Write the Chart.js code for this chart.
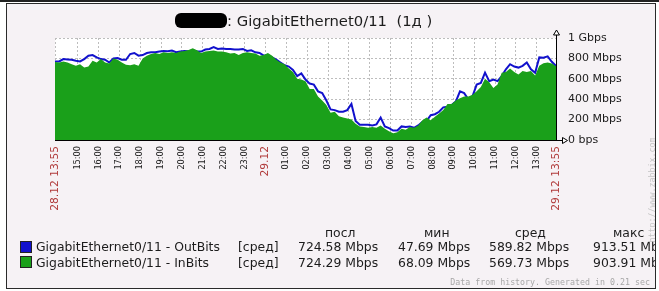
<!DOCTYPE html>
<html>
<head>
<meta charset="utf-8">
<script src="https://cdn.jsdelivr.net/npm/chart.js"></script>
<style>
  html, body { margin: 0; padding: 0; background: #fff; }
  #wrap { position: relative; width: 659px; height: 291px; overflow: hidden; font-family: "DejaVu Sans", sans-serif; color: #1c1c1c; }
  #topline { position: absolute; left: 0; top: 0; width: 659px; height: 2px; background: #222; }
  #box { position: absolute; left: 6px; top: 3px; width: 648px; height: 284px; border: 1px solid #2a2a2a; background: #f6f2f5; }
  #chart { position: absolute; left: 0; top: 0; }
  #clip { position: absolute; left: 7px; top: 4px; width: 648px; height: 284px; overflow: hidden; }
  .t { position: absolute; white-space: pre; height: 16px; line-height: 16px; }
  .lg { font-size: 12.4px; }
  .sq { position: absolute; width: 10px; height: 10px; border: 1px solid #222; }
  .small { font-family: "DejaVu Sans Mono", monospace; font-size: 8.3px; color: #a8a8a8; }
</style>
</head>
<body>
<div id="wrap">
  <div id="topline"></div>
  <div id="box"></div>
  <canvas id="chart" width="659" height="291"></canvas>
  <div id="clip">
    <!-- title (host name is blacked out in the reference) -->
    <div class="t" style="left:168px; top:9px; height:15px; width:52px; background:#000; border-radius:6px;"></div>
    <div class="t" style="left:220px; top:8px; font-size:14.8px; line-height:18px; height:18px;">: GigabitEthernet0/11  (1д )</div>

    <div class="t lg" style="left:318px; top:221px;">посл</div>
    <div class="t lg" style="left:417px; top:221px;">мин</div>
    <div class="t lg" style="left:508px; top:221px;">сред</div>
    <div class="t lg" style="left:606px; top:221px;">макс</div>

    <div class="sq" style="left:13px; top:237px; background:#1111cc;"></div>
    <div class="t lg" style="left:29px; top:235px;">GigabitEthernet0/11 - OutBits</div>
    <div class="t lg" style="left:231px; top:235px;">[сред]</div>
    <div class="t lg" style="left:291px; top:235px;">724.58 Mbps</div>
    <div class="t lg" style="left:391px; top:235px;">47.69 Mbps</div>
    <div class="t lg" style="left:482px; top:235px;">589.82 Mbps</div>
    <div class="t lg" style="left:586px; top:235px;">913.51 Mbps</div>

    <div class="sq" style="left:13px; top:252px; background:#1aa01a;"></div>
    <div class="t lg" style="left:29px; top:251px;">GigabitEthernet0/11 - InBits</div>
    <div class="t lg" style="left:231px; top:251px;">[сред]</div>
    <div class="t lg" style="left:291px; top:251px;">724.29 Mbps</div>
    <div class="t lg" style="left:391px; top:251px;">68.09 Mbps</div>
    <div class="t lg" style="left:482px; top:251px;">569.73 Mbps</div>
    <div class="t lg" style="left:586px; top:251px;">903.91 Mbps</div>

    <div class="t small" style="right:5px; top:270px;">Data from history. Generated in 0.21 sec</div>
    <div class="t small" style="left:592px; top:178px; width:105px; text-align:center; color:#c4c4c4; transform:rotate(-90deg);">http://www.zabbix.com</div>
  </div>
</div>
<script>
// samples every 12 minutes, starting 28.12 13:55, values in Mbps
const stepMinutes = 12;

const outBits = [
  770, 770, 793, 790, 787, 777, 770, 793, 827, 833,
  810, 793, 787, 760, 800, 803, 787, 787, 843, 853,
  827, 833, 853, 860, 860, 867, 873, 870, 877, 860,
  867, 873, 870, 877, 870, 867, 887, 893, 910, 893,
  897, 893, 893, 887, 887, 893, 873, 880, 860, 853,
  827, 833, 810, 787, 760, 733, 720, 687, 627, 653,
  593, 553, 543, 477, 460, 387, 300, 293, 277, 277,
  293, 353, 187, 150, 150, 150, 143, 153, 220, 133,
  117, 93, 93, 133, 127, 133, 120, 143, 177, 187,
  243, 253, 277, 320, 327, 343, 377, 477, 460, 400,
  427, 543, 560, 660, 577, 593, 577, 627, 693, 743,
  720, 710, 727, 760, 693, 660, 810, 807, 820, 767,
  725
];

const inBits = [
  765, 760, 770, 760, 743, 727, 743, 710, 720, 777,
  760, 793, 760, 750, 800, 787, 760, 737, 733, 743,
  727, 800, 827, 843, 853, 843, 860, 853, 860, 853,
  867, 873, 883, 900, 880, 853, 867, 873, 877, 867,
  867, 860, 847, 853, 833, 853, 860, 853, 847, 827,
  833, 853, 827, 787, 760, 743, 700, 667, 600, 593,
  577, 500, 500, 427, 387, 343, 267, 277, 233, 220,
  210, 200, 160, 133, 127, 120, 127, 120, 143, 110,
  87, 67, 77, 110, 100, 127, 120, 143, 193, 220,
  193, 227, 260, 293, 353, 353, 387, 410, 427, 427,
  443, 477, 520, 600, 567, 510, 543, 660, 667, 700,
  667, 643, 677, 667, 677, 633, 727, 753, 760, 750,
  724
];

// x ticks in minutes from the start of the period
const tickMinutes = [0, 65, 125, 185, 245, 305, 365, 425, 485, 545, 605, 665, 725,
  785, 845, 905, 965, 1025, 1085, 1145, 1205, 1265, 1325, 1385, 1440];
const tickLabels = ['28.12 13:55', '15:00', '16:00', '17:00', '18:00', '19:00', '20:00',
  '21:00', '22:00', '23:00', '29.12', '01:00', '02:00', '03:00', '04:00', '05:00', '06:00',
  '07:00', '08:00', '09:00', '10:00', '11:00', '12:00', '13:00', '29.12 13:55'];

const yTicks = [0, 200, 400, 600, 800, 1000];
const yTickLabels = ['0 bps', '200 Mbps', '400 Mbps', '600 Mbps', '800 Mbps', '1 Gbps'];

const toPoints = arr => arr.map((v, i) => ({ x: i * stepMinutes, y: v }));

const plotBg = {
  id: 'plotBg',
  beforeDraw(chart) {
    const { ctx, chartArea: a } = chart;
    ctx.save();
    ctx.fillStyle = '#fff';
    ctx.fillRect(a.left, a.top, a.right - a.left, a.bottom - a.top);
    ctx.restore();
  }
};

const axisArrows = {
  id: 'axisArrows',
  afterDraw(chart) {
    const { ctx, chartArea: a } = chart;
    const x = Math.round(a.right) + 0.5;
    const y = Math.round(a.bottom) + 0.5;
    ctx.save();
    ctx.strokeStyle = '#000';
    ctx.fillStyle = '#fff';
    ctx.lineWidth = 1;
    // up arrow on the value axis
    ctx.beginPath();
    ctx.moveTo(x, a.top);
    ctx.lineTo(x, a.top - 3);
    ctx.stroke();
    ctx.beginPath();
    ctx.moveTo(x, a.top - 8);
    ctx.lineTo(x + 3, a.top - 3);
    ctx.lineTo(x - 3, a.top - 3);
    ctx.closePath();
    ctx.fill();
    ctx.stroke();
    // right arrow on the time axis
    ctx.beginPath();
    ctx.moveTo(x, y);
    ctx.lineTo(x + 6, y);
    ctx.stroke();
    ctx.beginPath();
    ctx.moveTo(x + 11, y);
    ctx.lineTo(x + 6, y - 3);
    ctx.lineTo(x + 6, y + 3);
    ctx.closePath();
    ctx.fill();
    ctx.stroke();
    ctx.restore();
  }
};

const isDateTick = i => (tickLabels[i] || '').includes('.');

new Chart(document.getElementById('chart').getContext('2d'), {
  type: 'line',
  data: {
    datasets: [
      {
        label: 'GigabitEthernet0/11 - InBits',
        data: toPoints(inBits),
        order: 0,
        borderWidth: 0,
        borderColor: '#1aa01a',
        backgroundColor: '#1aa01a',
        fill: 'origin',
        pointRadius: 0,
        tension: 0
      },
      {
        label: 'GigabitEthernet0/11 - OutBits',
        data: toPoints(outBits),
        order: 1,
        borderWidth: 2,
        borderColor: '#1111cc',
        fill: false,
        pointRadius: 0,
        tension: 0
      }
    ]
  },
  options: {
    responsive: false,
    animation: false,
    layout: { padding: { left: 55, top: 38, right: 0, bottom: 0 } },
    plugins: {
      legend: { display: false },
      tooltip: { enabled: false }
    },
    scales: {
      x: {
        type: 'linear',
        min: 0,
        max: 1440,
        afterBuildTicks: s => { s.ticks = tickMinutes.map(v => ({ value: v })); },
        afterFit: s => { s.height = 151; },
        grid: { color: '#bdbdbd', drawTicks: false },
        border: { color: '#000', width: 1, dash: [2, 2] },
        ticks: {
          autoSkip: false,
          minRotation: 90,
          maxRotation: 90,
          padding: 6,
          callback: (v, i) => tickLabels[i],
          color: ctx => isDateTick(ctx.index) ? '#b03a3a' : '#1c1c1c',
          font: ctx => isDateTick(ctx.index)
            ? { family: 'DejaVu Sans', size: 10.7 }
            : { family: 'DejaVu Sans', size: 8.2 }
        }
      },
      y: {
        position: 'right',
        min: 0,
        max: 1000,
        afterBuildTicks: s => { s.ticks = yTicks.map(v => ({ value: v })); },
        afterFit: s => { s.width = 103; },
        grid: { color: '#bdbdbd', drawTicks: false },
        border: { color: '#000', width: 1, dash: [2, 2] },
        ticks: {
          padding: 12,
          callback: (v, i) => yTickLabels[i],
          color: '#1c1c1c',
          font: { family: 'DejaVu Sans', size: 11 }
        }
      }
    }
  },
  plugins: [plotBg, axisArrows]
});
</script>
</body>
</html>
